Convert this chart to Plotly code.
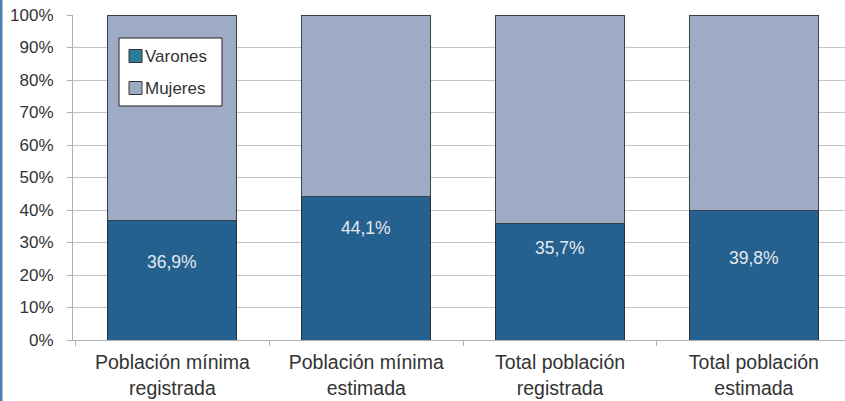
import plotly.graph_objects as go

categories = ["Población mínima<br>registrada", "Población mínima<br>estimada",
              "Total población<br>registrada", "Total población<br>estimada"]
varones = [36.9, 44.1, 35.7, 39.8]
mujeres = [100 - v for v in varones]
labels = ["36,9%", "44,1%", "35,7%", "39,8%"]
label_pos = [24.0, 34.5, 28.3, 25.2]
y_ticks = [0, 10, 20, 30, 40, 50, 60, 70, 80, 90, 100]
series_names = ["Varones", "Mujeres"]
legend_colors = ["#2c7f97", "#9eabc5"]

FONT = "Liberation Sans, Arial, sans-serif"
L, R, T, B, W, H = 73, 0, 15, 61, 845, 401
PW, PH = W - L - R, H - T - B


def px(x):
    return (x - L) / PW


def py(y):
    return (H - B - y) / PH


fig = go.Figure()
fig.add_trace(go.Bar(x=categories, y=varones, name="Varones", showlegend=False,
                     marker=dict(color="#25618e", line=dict(color="#2a2f3a", width=1)),
                     width=0.665))
fig.add_trace(go.Bar(x=categories, y=mujeres, name="Mujeres", showlegend=False,
                     marker=dict(color="#9eabc5", line=dict(color="#3a3f4a", width=1)),
                     width=0.665))

for c, lab, yp in zip(categories, labels, label_pos):
    fig.add_annotation(x=c, y=yp, text=lab, showarrow=False,
                       font=dict(family=FONT, size=17.5, color="#e4e8ef"))

# left blue border
fig.add_shape(type="line", xref="paper", yref="paper", x0=px(1), x1=px(1),
              y0=py(H), y1=py(0), line=dict(color="#4a7fb0", width=3))

# manual legend
fig.add_shape(type="rect", xref="paper", yref="paper", x0=px(119), x1=px(222),
              y0=py(106), y1=py(38), fillcolor="white", line=dict(color="#222", width=1),
              layer="above")
for i, (nm, col) in enumerate(zip(series_names, legend_colors)):
    cy = 56 + i * 32
    fig.add_shape(type="rect", xref="paper", yref="paper", x0=px(129), x1=px(142),
                  y0=py(cy + 6.5), y1=py(cy - 6.5), fillcolor=col,
                  line=dict(color="#333", width=1), layer="above")
    fig.add_annotation(xref="paper", yref="paper", x=px(143), y=py(cy), text=nm,
                       showarrow=False, xanchor="left", yanchor="middle",
                       font=dict(family=FONT, size=17, color="#333"))

fig.update_layout(
    barmode="stack",
    width=W, height=H,
    margin=dict(l=L, r=R, t=T, b=B),
    paper_bgcolor="white", plot_bgcolor="white",
    showlegend=False,
    font=dict(family=FONT, color="#333"),
)
fig.update_yaxes(range=[0, 100], tickvals=y_ticks,
                 ticktext=[f"{t}%" for t in y_ticks],
                 showgrid=True, gridcolor="#c4c4c4", gridwidth=1,
                 showline=True, linecolor="#b0b0b0", linewidth=1,
                 ticks="outside", ticklen=5, tickcolor="#b0b0b0",
                 ticklabelstandoff=10,
                 tickfont=dict(family=FONT, size=17, color="#333"),
                 zeroline=False)
fig.update_xaxes(range=[-0.513, 3.47],
                 showline=True, linecolor="#b0b0b0", linewidth=1,
                 ticks="outside", tickson="boundaries", ticklen=5, tickcolor="#b0b0b0",
                 ticklabelstandoff=5,
                 tickfont=dict(family=FONT, size=19.5, color="#333"))

fig.write_html("out.html")
